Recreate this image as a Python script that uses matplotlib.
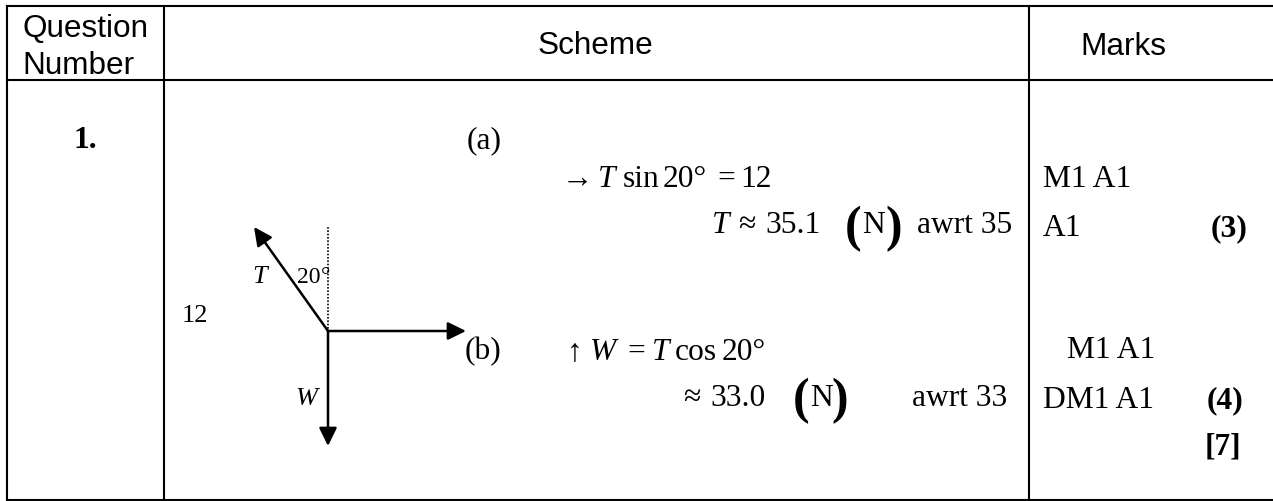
import matplotlib
matplotlib.use("Agg")
import matplotlib.pyplot as plt
from matplotlib.patches import FancyArrowPatch

W, H = 1273, 502
sans = "Liberation Sans"
serif = "Liberation Serif"
size = 22.7

# x, baseline y, text
header = [(22, 37, "Question"), (22, 74, "Number"), (538, 54, "Scheme"), (1080, 55, "Marks")]
plain = [
    (562, 187, "→"), (623, 187, "sin"), (663, 187, "20°"), (717, 187, "="), (740, 187, "12"),
    (738, 233, "≈"), (765, 233, "35.1"), (862, 233, "N"), (917, 233, "awrt 35"),
    (567, 360, "↑"), (627, 360, "="), (675, 360, "cos"), (722, 360, "20°"),
    (683, 406, "≈"), (710, 406, "33.0"), (810, 406, "N"), (912, 406, "awrt 33"),
    (1043, 187, "M1 A1"), (1043, 236, "A1"), (1067, 358, "M1 A1"), (1043, 408, "DM1 A1"),
]
small = [(467, 148, "(a)", 22.7), (465, 359, "(b)", 22.7), (182, 322, "12", 19),
         (297, 283, "20", 17), (321, 283, "°", 17)]
italic = [(598, 187, "T", size), (712, 233, "T", size), (590, 360, "W", size), (652, 360, "T", size),
          (252, 283, "T", 19), (295, 405, "W", 19)]
bold = [(73, 148, "1."), (1211, 236, "(3)"), (1207, 408, "(4)"), (1205, 455, "[7]")]
parens = [(845, 241, "("), (885, 241, ")"), (793, 413, "("), (831, 413, ")")]

h_lines = [(7, 7, 1273), (81, 7, 1273), (501, 7, 1273)]
v_lines = [(7, 7, 501), (164, 7, 501), (1029, 7, 501)]

origin = (328, 332)
tips = [(254, 228), (466, 332), (328, 447)]

fig = plt.figure(figsize=(W / 100, H / 100), dpi=100)
ax = fig.add_axes([0, 0, 1, 1])
ax.set_xlim(0, W)
ax.set_ylim(H, 0)
ax.axis("off")

for y, x0, x1 in h_lines:
    ax.plot([x0, x1], [y, y], color="black", lw=1.5)
for x, y0, y1 in v_lines:
    ax.plot([x, x], [y0, y1], color="black", lw=1.5)

ax.plot([328, 328], [228, 332], color="black", lw=1.2, ls=(0, (1, 1)))
for tip in tips:
    ax.add_patch(FancyArrowPatch(origin, tip, arrowstyle="-|>,head_length=0.55,head_width=0.27",
                                 mutation_scale=20, lw=1.8, color="black", shrinkA=0, shrinkB=0))

for x, y, s in header:
    ax.text(x, y, s, family=sans, fontsize=size, va="baseline")
for x, y, s in plain:
    ax.text(x, y, s, family=serif, fontsize=size, va="baseline")
for x, y, s, fs in small:
    ax.text(x, y, s, family=serif, fontsize=fs, va="baseline")
for x, y, s, fs in italic:
    ax.text(x, y, s, family=serif, style="italic", fontsize=fs, va="baseline")
for x, y, s in bold:
    ax.text(x, y, s, family=serif, weight="bold", fontsize=size, va="baseline")
for x, y, s in parens:
    ax.text(x, y, s, family=serif, weight="bold", fontsize=36, va="baseline")

fig.savefig("out.png", dpi=100)
